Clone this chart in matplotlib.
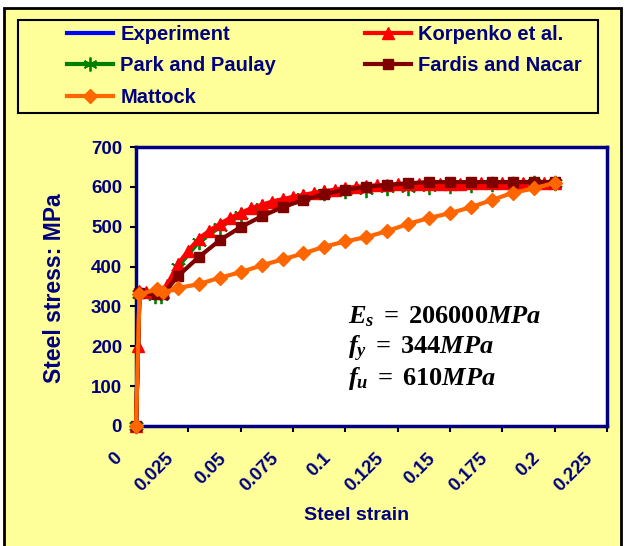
import matplotlib
matplotlib.use('Agg')
import matplotlib.pyplot as plt
import matplotlib.transforms as mtransforms
from matplotlib.patches import Rectangle
from matplotlib.lines import Line2D

plt.rcParams['font.family'] = ['Liberation Sans', 'DejaVu Sans']
plt.rcParams['mathtext.fontset'] = 'custom'
plt.rcParams['mathtext.rm'] = 'Liberation Serif:bold'
plt.rcParams['mathtext.it'] = 'Liberation Serif:italic:bold'
plt.rcParams['mathtext.bf'] = 'Liberation Serif:bold'

NAVY = '#000080'

# Data
exp_strain = [0, 0.00167, 0.005, 0.01, 0.013, 0.02, 0.025, 0.03, 0.04, 0.05, 0.06,
              0.07, 0.08, 0.09, 0.1, 0.12, 0.14, 0.16, 0.18, 0.2]
exp_stress = [0, 344, 336, 333, 334, 402, 436, 466, 504, 532, 552,
              566, 578, 587, 593, 600, 604, 607, 609, 610]

korp_strain = [0, 0.001, 0.00167, 0.005, 0.01, 0.013, 0.015, 0.02, 0.025, 0.03, 0.035,
               0.04, 0.045, 0.05, 0.055, 0.06, 0.065, 0.07, 0.075, 0.08, 0.085, 0.09,
               0.095, 0.1, 0.105, 0.11, 0.115, 0.12, 0.125, 0.13, 0.135, 0.14, 0.145,
               0.15, 0.155, 0.16, 0.165, 0.17, 0.175, 0.18, 0.185, 0.19, 0.195, 0.2]
korp_stress = [0, 200, 338, 337, 336, 337, 355, 406, 440, 470, 490,
               507, 522, 535, 546, 555, 563, 569, 575, 580, 585, 589,
               593, 597, 600, 602, 604, 605, 606, 606, 607, 607, 608,
               608, 608, 609, 609, 609, 610, 610, 610, 610, 610, 610]

park_strain = [0, 0.00167, 0.009, 0.012, 0.02, 0.03, 0.04, 0.05, 0.06, 0.07, 0.08,
               0.09, 0.1, 0.11, 0.12, 0.13, 0.14, 0.15, 0.16, 0.17, 0.18, 0.19, 0.2]
park_stress = [0, 330, 326, 326, 399, 462, 499, 529, 549, 562, 575,
               585, 590, 593, 596, 598, 600, 602, 604, 606, 608, 609, 610]

fardis_strain = [0, 0.00167, 0.01, 0.013, 0.02, 0.03, 0.04, 0.05, 0.06, 0.07, 0.08,
                 0.09, 0.1, 0.11, 0.12, 0.13, 0.14, 0.15, 0.16, 0.17, 0.18, 0.19, 0.2]
fardis_stress = [0, 334, 330, 331, 376, 424, 466, 499, 526, 549, 567,
                 582, 593, 600, 605, 609, 612, 612, 612, 612, 612, 612, 612]

mattock_strain = [0, 0.00167, 0.01, 0.013, 0.02, 0.03, 0.04, 0.05, 0.06, 0.07, 0.08,
                  0.09, 0.1, 0.11, 0.12, 0.13, 0.14, 0.15, 0.16, 0.17, 0.18, 0.19, 0.2]
mattock_stress = [0, 330, 343, 335, 346, 356, 372, 386, 403, 418, 433,
                  450, 463, 474, 489, 507, 522, 534, 549, 567, 585, 596, 610]

xticks = [0, 0.025, 0.05, 0.075, 0.1, 0.125, 0.15, 0.175, 0.2, 0.225]
xticklabels = ['0', '0.025', '0.05', '0.075', '0.1', '0.125', '0.15', '0.175', '0.2', '0.225']
yticks = [0, 100, 200, 300, 400, 500, 600, 700]

fig = plt.figure(figsize=(6.25, 5.46), dpi=100, facecolor='white')
# yellow chart area with black border
fig.patches.append(Rectangle((4 / 625, -0.01), 617 / 625, 1.01 - 8 / 546,
                             transform=fig.transFigure, facecolor='#FFFF99',
                             edgecolor='black', linewidth=2, zorder=-10))

ax = fig.add_axes([136 / 625, 1 - 426 / 546, 471 / 625, 279 / 546])
ax.set_facecolor('white')

lw = 3
ax.plot(exp_strain, exp_stress, color='#0000FF', lw=lw, clip_on=False, zorder=3)
ax.plot(park_strain, park_stress, color='#008000', lw=lw, marker=(6, 2, 0), ms=11,
        mew=1.3, mec='#008000', clip_on=False, zorder=4)
ax.plot(korp_strain, korp_stress, color='#FF0000', lw=lw, marker='^', ms=8.5,
        mec='#FF0000', clip_on=False, zorder=5)
ax.plot(fardis_strain, fardis_stress, color='#800000', lw=lw, marker='s', ms=7.5,
        mec='#800000', clip_on=False, zorder=6)
ax.plot(mattock_strain, mattock_stress, color='#FF6600', lw=lw, marker='D', ms=7.5,
        mec='#FF6600', clip_on=False, zorder=7)

ax.set_xlim(0, 0.225)
ax.set_ylim(0, 700)
ax.set_xticks(xticks)
ax.set_xticklabels(xticklabels)
ax.set_yticks(yticks)
for s in ax.spines.values():
    s.set_color(NAVY)
    s.set_linewidth(2.5)
ax.tick_params(axis='both', direction='out', length=4, width=1.5, color='black')
ax.tick_params(axis='y', pad=6, labelsize=13.5, labelcolor=NAVY)
ax.tick_params(axis='x', pad=13, labelsize=13.5, labelcolor=NAVY)
for lab in ax.get_yticklabels():
    lab.set_fontweight('bold')
shift = mtransforms.ScaledTranslation(-0.11, 0, fig.dpi_scale_trans)
for lab in ax.get_xticklabels():
    lab.set_fontweight('bold')
    lab.set_rotation(45)
    lab.set_ha('right')
    lab.set_va('top')
    lab.set_transform(lab.get_transform() + shift)

fig.text(55 / 625, 1 - 288 / 546, 'Steel stress: MPa', rotation=90, ha='center',
         va='center', fontsize=16.5, fontweight='bold', color=NAVY)
fig.text(357 / 625, 1 - 515 / 546, 'Steel strain', ha='center', va='center',
         fontsize=14, fontweight='bold', color=NAVY)

for yb, txt in zip([323, 354, 385],
                   [r'$E_s\;=\;206000MPa$', r'$f_y\;=\;344MPa$', r'$f_u\;=\;610MPa$']):
    fig.text(348 / 625, 1 - yb / 546, txt, ha='left', va='baseline', fontsize=19,
             color='black')

# legend box and entries
fig.patches.append(Rectangle((18 / 625, 1 - 113 / 546), 580 / 625, 93 / 546,
                             transform=fig.transFigure, facecolor='none',
                             edgecolor='black', linewidth=1.5, zorder=5))
handles = [
    Line2D([], [], color='#0000FF', lw=lw),
    Line2D([], [], color='#008000', lw=lw, marker=(6, 2, 0), ms=10, mew=1.3),
    Line2D([], [], color='#FF6600', lw=lw, marker='D', ms=7),
    Line2D([], [], color='#FF0000', lw=lw, marker='^', ms=8),
    Line2D([], [], color='#800000', lw=lw, marker='s', ms=7),
]
labels = ['Experiment', 'Park and Paulay', 'Mattock', 'Korpenko et al.', 'Fardis and Nacar']
fig.legend(handles, labels, loc='upper left', bbox_to_anchor=(67 / 625, 1 - 25 / 546),
           ncol=2, frameon=False, borderpad=0, borderaxespad=0, numpoints=1,
           handlelength=2.3, handletextpad=0.35, columnspacing=4.4, labelspacing=0.62,
           prop={'weight': 'bold', 'size': 14.5}, labelcolor=NAVY)

fig.savefig('out.png', dpi=100, facecolor=fig.get_facecolor())
